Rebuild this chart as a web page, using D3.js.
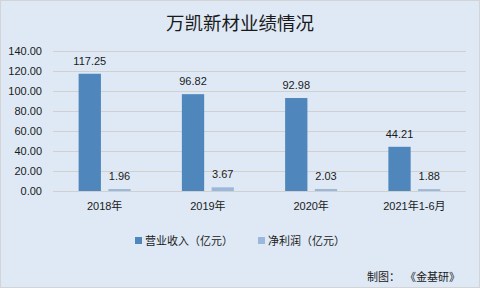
<!DOCTYPE html>
<html>
<head>
<meta charset="utf-8">
<script src="https://cdnjs.cloudflare.com/ajax/libs/d3/7.8.5/d3.min.js"></script>
<style>
    body { margin: 0; padding: 0; }
    svg { display: block; font-family: "Liberation Sans", "Noto Sans CJK SC", sans-serif; }
</style>
</head>
<body>
<div id="chart"></div>
<script>
// chart data
var categories = ["2018年", "2019年", "2020年", "2021年1-6月"];
var seriesNames = ["营业收入（亿元）", "净利润（亿元）"];
var revenue = [117.25, 96.82, 92.98, 44.21];
var profit = [1.96, 3.67, 2.03, 1.88];
var yTicks = [0, 20, 40, 60, 80, 100, 120, 140];

var width = 480, height = 288;
var colors = ["#4f86bb", "#9ab8dc"];
var margin = {top: 51, right: 14, bottom: 96, left: 53};

var svg = d3.select("#chart")
    .append("svg")
    .attr("width", width)
    .attr("height", height);

// background + border
svg.append("rect")
    .attr("x", 0.5).attr("y", 0.5)
    .attr("width", width - 1).attr("height", height - 1)
    .attr("fill", "#dee9f5")
    .attr("stroke", "#d4d4d4");

// title
svg.append("text")
    .attr("x", 240).attr("y", 30)
    .attr("text-anchor", "middle")
    .attr("font-family", "Noto Sans CJK SC")
    .attr("font-size", 18.5)
    .attr("fill", "#1a1a1a")
    .text("万凯新材业绩情况");

var plotW = width - margin.left - margin.right;
var plotH = height - margin.top - margin.bottom - 1;

var x = d3.scaleBand()
    .domain(categories)
    .range([margin.left, margin.left + plotW]);

var inner = d3.scaleBand()
    .domain([0, 1])
    .range([0, 52])
    .paddingInner(0.25);

var y = d3.scaleLinear()
    .domain([0, 140])
    .range([margin.top + plotH, margin.top]);

// gridlines
svg.append("g")
    .selectAll("line")
    .data(yTicks)
    .enter()
    .append("line")
    .attr("x1", margin.left)
    .attr("x2", margin.left + plotW)
    .attr("y1", function(d) { return Math.round(y(d)) + 0.5; })
    .attr("y2", function(d) { return Math.round(y(d)) + 0.5; })
    .attr("stroke", "#d0d0d0")
    .attr("stroke-width", 1);

// y axis labels
var yAxis = d3.axisLeft(y)
    .tickValues(yTicks)
    .tickSize(0)
    .tickPadding(11)
    .tickFormat(d3.format(".2f"));

svg.append("g")
    .attr("transform", "translate(" + margin.left + ",0)")
    .call(yAxis)
    .call(function(g) { g.select(".domain").remove(); })
    .selectAll("text")
    .attr("font-size", 11)
    .attr("fill", "#1a1a1a");

// x axis labels
var xAxis = d3.axisBottom(x).tickSize(0).tickPadding(11);
svg.append("g")
    .attr("transform", "translate(0," + (margin.top + plotH) + ")")
    .call(xAxis)
    .call(function(g) { g.select(".domain").remove(); })
    .selectAll("text")
    .attr("font-family", "Liberation Sans, Noto Sans CJK SC")
    .attr("font-size", 11)
    .attr("fill", "#1a1a1a");

// bars
var series = [revenue, profit];
series.forEach(function(vals, s) {
    var g = svg.append("g");
    g.selectAll("rect")
        .data(vals)
        .enter()
        .append("rect")
        .attr("x", function(d, i) { return x(categories[i]) + x.bandwidth() / 2 - 26 + inner(s); })
        .attr("y", function(d) { return y(d); })
        .attr("width", inner.bandwidth())
        .attr("height", function(d) { return y(0) - y(d); })
        .attr("fill", colors[s]);

    g.selectAll("text")
        .data(vals)
        .enter()
        .append("text")
        .attr("x", function(d, i) { return x(categories[i]) + x.bandwidth() / 2 - 26 + inner(s) + inner.bandwidth() / 2; })
        .attr("y", function(d) { return y(d) - 9; })
        .attr("text-anchor", "middle")
        .attr("font-size", 11)
        .attr("fill", "#1a1a1a")
        .text(function(d) { return d.toFixed(2); });
});

// legend
var legendX = [135, 258];
var legend = svg.append("g");
seriesNames.forEach(function(name, s) {
    legend.append("rect")
        .attr("x", legendX[s])
        .attr("y", 237)
        .attr("width", 7)
        .attr("height", 7)
        .attr("fill", colors[s]);
    legend.append("text")
        .attr("x", legendX[s] + 10)
        .attr("y", 245)
        .attr("font-family", "Noto Sans CJK SC")
        .attr("font-size", 11)
        .attr("fill", "#1a1a1a")
        .text(name);
});

// source note
svg.append("text")
    .attr("x", 460)
    .attr("y", 281)
    .attr("text-anchor", "end")
    .attr("font-family", "Noto Sans CJK SC")
    .attr("font-size", 11)
    .attr("fill", "#1a1a1a")
    .attr("xml:space", "preserve")
    .text("制图：  《金基研》");
</script>
</body>
</html>
